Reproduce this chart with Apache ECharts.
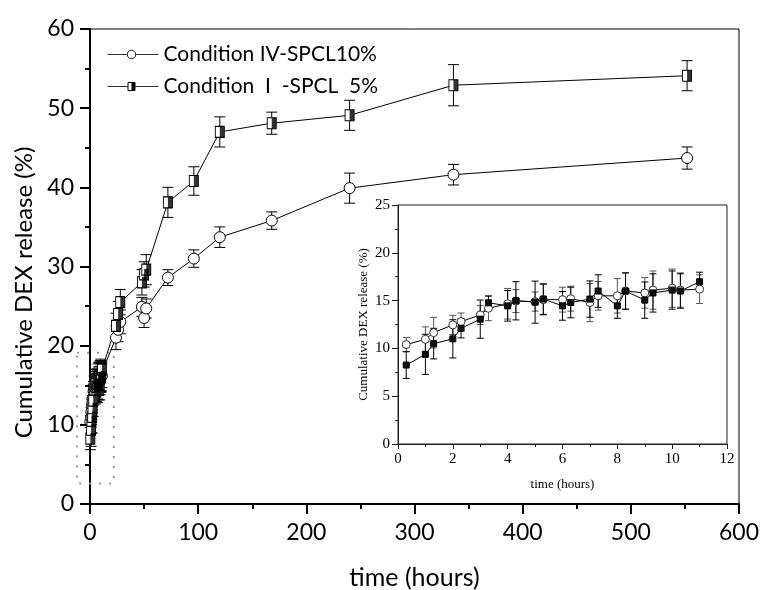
<!DOCTYPE html>
<html>
<head>
<meta charset="utf-8">
<script src="https://cdn.jsdelivr.net/npm/echarts@6/dist/echarts.min.js"></script>
<style>html,body{margin:0;padding:0;background:#fff}#c{width:760px;height:590px}</style>
</head>
<body>
<div id="c"></div>
<script>
// ---- data ----
const earlyTime = [0.3,1,1.3,2,2.3,3,3.3,4,4.3,5,5.3,6,6.3,7,7.3,8,8.3,9,9.3,10,10.3,11];
const circleEarly = [10.4,10.95,11.65,12.46,12.8,13.5,14.2,14.67,14.95,14.9,15.1,15.1,15.2,14.8,15.5,15.5,16.0,15.8,16.1,16.3,16.1,16.2];
const circleEarlyErr = [0.75,1.3,1.6,1.0,0.9,1.0,1.3,1.6,1.2,1.0,1.6,1.3,1.3,2.0,1.5,1.8,1.9,1.6,2.0,2.0,1.8,1.5];
const squareEarly = [8.26,9.38,10.5,11.0,12.1,13.06,14.77,14.45,14.98,14.84,15.16,14.45,14.8,15.16,16.0,14.45,16.0,15.05,15.8,16.1,16.0,16.97];
const squareEarlyErr = [1.4,2.1,1.6,2.0,1.0,2.0,0.7,1.6,2.0,2.2,1.6,1.5,1.6,1.9,1.7,1.3,1.9,1.9,2.0,2.0,1.8,1.0];

const lateTime = [24,26,28,48,50,52,72,96,120,168,240,336,552];
const circleLate = [21.0,22.0,23.0,24.9,23.5,24.7,28.6,31.0,33.7,35.8,39.9,41.6,43.7];
const circleLateErr = [1.5,1.5,1.5,1.2,1.2,1.2,1.0,1.1,1.3,1.1,1.9,1.3,1.4];
const squareLate = [22.5,24.0,25.5,28.0,29.0,29.6,38.1,40.8,47.0,48.1,49.1,52.9,54.1];
const squareLateErr = [1.6,1.6,1.6,1.6,1.6,1.9,1.9,1.8,1.9,1.4,1.9,2.6,1.9];

const mainXTicks = [0,100,200,300,400,500,600];
const mainYTicks = [0,10,20,30,40,50,60];
const insetXTicks = [0,2,4,6,8,10,12];
const insetYTicks = [0,5,10,15,20,25];

const zoomBoxX = [-12, 22];
const zoomBoxY = [2.6, 19.1];

const legendNames = ['Condition IV-SPCL10%', 'Condition  I  -SPCL  5%'];

// ---- build ----
function pairs(t, v){ return t.map((x,i)=>[x, v[i]]); }
function errs(t, v, e){ return t.map((x,i)=>[x, v[i]-e[i], v[i]+e[i]]); }

const allTime = earlyTime.concat(lateTime);
const circleAll = circleEarly.concat(circleLate);
const circleAllErr = circleEarlyErr.concat(circleLateErr);
const squareAll = squareEarly.concat(squareLate);
const squareAllErr = squareEarlyErr.concat(squareLateErr);

function errRender(capW, color){
  return function(params, api){
    const x = api.value(0), lo = api.value(1), hi = api.value(2);
    const p1 = api.coord([x, lo]), p2 = api.coord([x, hi]);
    const st = {stroke: color, lineWidth: 1};
    return {type:'group', children:[
      {type:'line', shape:{x1:p1[0], y1:p1[1], x2:p2[0], y2:p2[1]}, style:st},
      {type:'line', shape:{x1:p1[0]-capW/2, y1:p1[1], x2:p1[0]+capW/2, y2:p1[1]}, style:st},
      {type:'line', shape:{x1:p2[0]-capW/2, y1:p2[1], x2:p2[0]+capW/2, y2:p2[1]}, style:st}
    ]};
  };
}

function boxRender(params, api){
  const a = api.coord([api.value(0), api.value(3)]);
  const b = api.coord([api.value(2), api.value(1)]);
  return {type:'polygon', shape:{points:[[a[0],a[1]],[b[0],a[1]],[b[0],b[1]],[a[0],b[1]]]},
          style:{fill:'none', stroke:'#999', lineWidth:2, lineDash:[2,8]}};
}

const mainFont = 'Lato';
const serif = '"Liberation Serif", "DejaVu Serif", serif';

const chart = echarts.init(document.getElementById('c'), null, {renderer:'canvas'});
const option = {
  animation: false,
  backgroundColor: '#fff',
  grid: [
    {left: 90, right: 21, top: 29, bottom: 86, show: true, borderColor: '#000', borderWidth: 1, backgroundColor: 'transparent', outerBoundsMode: 'none', containLabel: false},
    {left: 398, right: 33, top: 205, bottom: 146, show: true, borderColor: '#222', borderWidth: 1, backgroundColor: '#fff', z: 5, outerBoundsMode: 'none', containLabel: false}
  ],
  xAxis: [
    {gridIndex:0, type:'value', min: mainXTicks[0], max: mainXTicks[mainXTicks.length-1], interval: 100,
     name: 'time (hours)', nameLocation: 'middle', nameGap: 61,
     nameTextStyle: {fontFamily: mainFont, fontSize: 25, color: '#000'},
     axisLine: {show: true, onZero: false, lineStyle: {color:'#000', width: 2}},
     axisTick: {show: true, inside: false, length: 10, lineStyle:{color:'#000', width: 2}},
     minorTick: {show: true, splitNumber: 2, length: 5, lineStyle:{color:'#000', width: 2}},
     splitLine: {show: false},
     axisLabel: {fontFamily: mainFont, fontSize: 23, color: '#000', margin: 17}},
    {gridIndex:1, type:'value', min: insetXTicks[0], max: insetXTicks[insetXTicks.length-1], interval: 2,
     name: 'time (hours)', nameLocation: 'middle', nameGap: 34,
     nameTextStyle: {fontFamily: serif, fontSize: 13, color: '#000'},
     axisLine: {show: true, onZero: false, lineStyle: {color:'#222', width: 1}},
     axisTick: {show: true, length: 5, lineStyle:{color:'#222'}},
     minorTick: {show: true, splitNumber: 2, length: 3, lineStyle:{color:'#222'}},
     splitLine: {show: false},
     axisLabel: {fontFamily: serif, fontSize: 15, color: '#000', margin: 8}, z: 6}
  ],
  yAxis: [
    {gridIndex:0, type:'value', min: mainYTicks[0], max: mainYTicks[mainYTicks.length-1], interval: 10,
     name: 'Cumulative DEX release (%)', nameLocation: 'middle', nameGap: 53,
     nameTextStyle: {fontFamily: mainFont, fontSize: 24, color: '#000', padding: [0, 52, 0, 0]},
     axisLine: {show: true, onZero: false, lineStyle: {color:'#000', width: 2}},
     axisTick: {show: true, length: 10, lineStyle:{color:'#000', width: 2}},
     minorTick: {show: true, splitNumber: 2, length: 5, lineStyle:{color:'#000', width: 2}},
     splitLine: {show: false},
     axisLabel: {fontFamily: mainFont, fontSize: 23, color: '#000', margin: 16}},
    {gridIndex:1, type:'value', min: insetYTicks[0], max: insetYTicks[insetYTicks.length-1], interval: 5,
     name: 'Cumulative DEX release (%)', nameLocation: 'middle', nameGap: 28,
     nameTextStyle: {fontFamily: serif, fontSize: 13, color: '#000'},
     axisLine: {show: true, onZero: false, lineStyle: {color:'#222', width: 1}},
     axisTick: {show: true, length: 6, lineStyle:{color:'#222'}},
     minorTick: {show: true, splitNumber: 2, length: 3, lineStyle:{color:'#222'}},
     splitLine: {show: false},
     axisLabel: {fontFamily: serif, fontSize: 15, color: '#000', margin: 8}, z: 6}
  ],
  graphic: [
    {type:'group', left: 105, top: 44, z: 100, children: [
      {type:'line', shape:{x1:0,y1:10,x2:51,y2:10}, style:{stroke:'#333', lineWidth:1}},
      {type:'circle', shape:{cx:24, cy:10, r:4.2}, style:{fill:'#fff', stroke:'#222', lineWidth:1}},
      {type:'text', x: 56, y: 10, style:{text: legendNames[0], fontFamily: mainFont, fontSize: 21, fill:'#000', verticalAlign:'middle', align:'left'}}
    ]},
    {type:'group', left: 105, top: 76, z: 100, children: [
      {type:'line', shape:{x1:0,y1:10,x2:51,y2:10}, style:{stroke:'#333', lineWidth:1}},
      {type:'rect', shape:{x:20.5, y:6, width:7, height:8}, style:{fill:'#fff', stroke:'#000', lineWidth:1}},
      {type:'rect', shape:{x:24, y:6, width:3.5, height:8}, style:{fill:'#000'}},
      {type:'text', x: 56, y: 10, style:{text: legendNames[1], fontFamily: mainFont, fontSize: 21, fill:'#000', verticalAlign:'middle', align:'left'}}
    ]}
  ],
  series: [
    {type:'custom', xAxisIndex:0, yAxisIndex:0, clip:false, silent:true, renderItem: boxRender,
     encode:{x:[0,2], y:[1,3]},
     data: [[zoomBoxX[0], zoomBoxY[0], zoomBoxX[1], zoomBoxY[1]]], z:1},
    {type:'custom', xAxisIndex:0, yAxisIndex:0, renderItem: errRender(11, '#000'), data: errs(allTime, circleAll, circleAllErr), z:2, clip:false},
    {type:'custom', xAxisIndex:0, yAxisIndex:0, renderItem: errRender(11, '#000'), data: errs(allTime, squareAll, squareAllErr), z:2, clip:false},
    {name: legendNames[0], type:'line', xAxisIndex:0, yAxisIndex:0, data: pairs(allTime, circleAll), showAllSymbol:true,
     symbol:'circle', symbolSize: 11, lineStyle:{color:'#000', width:1}, itemStyle:{color:'#fff', borderColor:'#000', borderWidth:1}, z:3},
    {name: legendNames[1], type:'line', xAxisIndex:0, yAxisIndex:0, data: pairs(allTime, squareAll), showAllSymbol:true,
     symbol:'rect', symbolSize: [9,11], lineStyle:{color:'#000', width:1}, itemStyle:{color:'#fff', borderColor:'#000', borderWidth:1}, z:3},
    {type:'scatter', xAxisIndex:0, yAxisIndex:0, data: pairs(allTime, squareAll), symbol:'path://M0 0H1V1H0Z',
     symbolSize:[4.5,11], symbolOffset:[2.25,0], itemStyle:{color:'#000'}, z:4, silent:true},
    {type:'custom', xAxisIndex:1, yAxisIndex:1, renderItem: errRender(7, '#555'), data: errs(earlyTime, circleEarly, circleEarlyErr), z:7},
    {type:'custom', xAxisIndex:1, yAxisIndex:1, renderItem: errRender(7, '#000'), data: errs(earlyTime, squareEarly, squareEarlyErr), z:7},
    {type:'line', xAxisIndex:1, yAxisIndex:1, data: pairs(earlyTime, circleEarly), showAllSymbol:true,
     symbol:'circle', symbolSize: 8, lineStyle:{color:'#000', width:1}, itemStyle:{color:'#fff', borderColor:'#333', borderWidth:1}, z:8},
    {type:'line', xAxisIndex:1, yAxisIndex:1, data: pairs(earlyTime, squareEarly), showAllSymbol:true,
     symbol:'rect', symbolSize: 6, lineStyle:{color:'#000', width:1}, itemStyle:{color:'#111', borderColor:'#000', borderWidth:1}, z:8}
  ]
};
chart.setOption(option);
</script>
</body>
</html>
